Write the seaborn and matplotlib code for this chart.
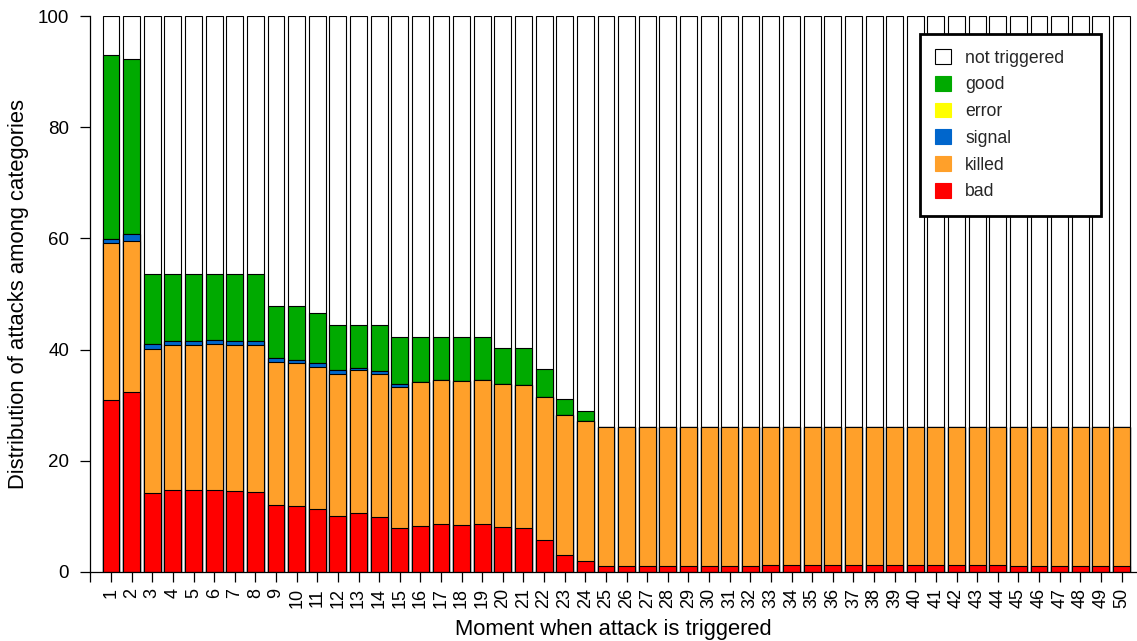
import numpy as np
import pandas as pd
import seaborn as sns
import matplotlib
matplotlib.use("Agg")
import matplotlib.pyplot as plt
from matplotlib.patches import Patch

# Moment at which the attack is triggered
moments = list(range(1, 51))

# Share of attacks (in %) falling into each outcome category
bad = [31.0, 32.4, 14.2, 14.7, 14.7, 14.8, 14.6, 14.4, 12.0, 11.8,
       11.3, 10.1, 10.6, 9.9, 7.9, 8.3, 8.6, 8.4, 8.6, 8.1,
       7.9, 5.8, 3.0, 2.0, 1.0, 1.0, 1.0, 1.0, 1.0, 1.0,
       1.0, 1.0, 1.3, 1.3, 1.2, 1.2, 1.3, 1.3, 1.3, 1.3,
       1.3, 1.3, 1.3, 1.3, 1.1, 1.0, 1.1, 1.1, 1.1, 1.1]
killed = [28.1, 27.2, 25.9, 26.1, 26.1, 26.2, 26.2, 26.4, 25.7, 25.8,
          25.6, 25.6, 25.7, 25.8, 25.4, 25.8, 25.9, 26.0, 26.0, 25.8,
          25.8, 25.6, 25.2, 25.2, 25.1, 25.1, 25.1, 25.1, 25.1, 25.1,
          25.1, 25.1, 24.8, 24.8, 24.9, 24.9, 24.8, 24.8, 24.8, 24.8,
          24.8, 24.8, 24.8, 24.8, 25.0, 25.1, 25.0, 25.0, 25.0, 25.0]
signal = [0.8, 1.2, 0.9, 0.7, 0.7, 0.7, 0.7, 0.7, 0.7, 0.6,
          0.7, 0.6, 0.4, 0.4, 0.5] + [0.0] * 35
error = [0.0] * 50
good = [33.1, 31.5, 12.6, 12.1, 12.1, 11.9, 12.1, 12.1, 9.5, 9.7,
        8.9, 8.1, 7.7, 8.3, 8.5, 8.2, 7.8, 7.9, 7.7, 6.3,
        6.5, 5.2, 2.9, 1.7] + [0.0] * 26

categories = ["bad", "killed", "signal", "error", "good", "not triggered"]
colors = {"bad": "#FF0000", "killed": "#FFA02A", "signal": "#0066CC",
          "error": "#FFFF00", "good": "#00AA00", "not triggered": "#FFFFFF"}

df = pd.DataFrame({"moment": moments, "bad": bad, "killed": killed,
                   "signal": signal, "error": error, "good": good})
df["not triggered"] = 100 - df[["bad", "killed", "signal", "error", "good"]].sum(axis=1)

# cumulative tops, stacked from the bottom category upward
cum = df[categories].cumsum(axis=1)

sns.set_theme(style="white")
plt.rcParams["font.family"] = ["Liberation Sans", "DejaVu Sans"]

W, H = 1137, 641
fig = plt.figure(figsize=(W / 100, H / 100), dpi=100)
left, bottom, top = 90, 572, 16
ax = fig.add_axes([left / W, (H - bottom) / H, (W - left) / W, (bottom - top) / H])

# draw tallest stack first so that each lower segment sits on top
for cat in reversed(categories):
    sns.barplot(x=df["moment"], y=cum[cat], native_scale=True, color=colors[cat],
                saturation=1, edgecolor="black", linewidth=0.8, width=0.82,
                errorbar=None, ax=ax)

xmin = -0.02
ax.set_xlim(xmin, 50.75)
ax.set_ylim(0, 100)

for s in ["top", "right"]:
    ax.spines[s].set_visible(False)
for s in ["left", "bottom"]:
    ax.spines[s].set_color("black")
    ax.spines[s].set_linewidth(0.9)

ax.set_yticks([0, 20, 40, 60, 80, 100])
ax.set_yticklabels(["0", "20", "40", "60", "80", "100"], fontsize=13.5)
ax.set_xticks(moments)
ax.set_xticklabels([str(m) for m in moments], rotation=90, fontsize=13)
ax.set_xticks([xmin], minor=True)
ax.tick_params(axis="both", which="both", direction="out", length=7,
               width=0.9, color="black", labelcolor="black",
               bottom=True, left=True)
ax.tick_params(axis="y", pad=8)
ax.tick_params(axis="x", pad=4.5)
ax.tick_params(axis="x", which="minor", labelbottom=False)

ax.set_xlabel("Moment when attack is triggered", fontsize=15.8, color="black")
ax.set_ylabel("Distribution of attacks among categories", fontsize=15.8,
              color="black", va="center")
ax.xaxis.set_label_coords(0.5, -0.084)
ax.yaxis.set_label_coords((19 - left) / (W - left), 0.5)

handles = [Patch(facecolor=colors[c], edgecolor="black" if c == "not triggered" else colors[c],
                 linewidth=0.8, label=c) for c in reversed(categories)]
leg = fig.legend(handles=handles, loc="upper left",
                 bbox_to_anchor=(920 / W, 1 - 34 / H, 181 / W, 0.0),
                 mode="expand", borderaxespad=0, fontsize=12.7,
                 frameon=True, fancybox=False, borderpad=0.86,
                 handlelength=0.9, handleheight=0.9, handletextpad=0.8,
                 labelspacing=0.53)
leg.get_frame().set_edgecolor("black")
leg.get_frame().set_linewidth(2)
leg.get_frame().set_facecolor("white")
leg.get_frame().set_alpha(1)

fig.savefig("out.png", dpi=100, facecolor="white")
